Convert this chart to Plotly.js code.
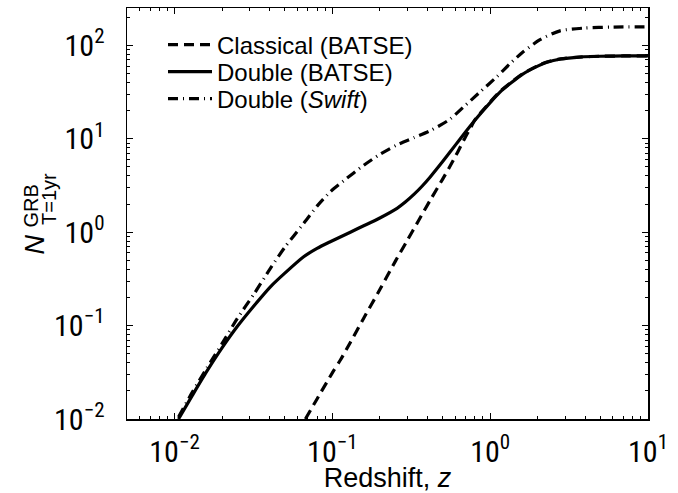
<!DOCTYPE html>
<html>
<head>
<meta charset="utf-8">
<script src="https://cdn.plot.ly/plotly-3.0.1.min.js"></script>
<style>html,body{margin:0;padding:0;background:#fff;}#chart{width:678px;height:493px;}</style>
</head>
<body>
<div id="chart"></div>
<script>
// Classical (BATSE)
const zClassical = [0.0675, 0.08, 0.1, 0.1125, 0.13, 0.158, 0.2, 0.251, 0.3, 0.35, 0.417, 0.5, 0.55, 0.6, 0.65, 0.7, 0.75, 0.8, 1.0, 1.15, 1.34, 1.6, 2.0, 2.29, 2.8, 3.7, 5, 7, 10];
const nClassical = [0.01, 0.0164, 0.0312, 0.0428, 0.066, 0.12, 0.243, 0.49, 0.83, 1.31, 2.2, 3.7, 4.9, 6.4, 8.3, 10.6, 13.0, 15.9, 24.8, 31.9, 39.5, 49.5, 60.5, 66.3, 71.7, 75.1, 76.5, 77, 77];
// Double (BATSE)
const zDouble = [0.0106, 0.013, 0.016, 0.02, 0.0249, 0.032, 0.0405, 0.05, 0.0658, 0.08, 0.097, 0.13, 0.158, 0.2, 0.257, 0.29, 0.33, 0.37, 0.417, 0.5, 0.6, 0.7, 0.8, 1.0, 1.15, 1.34, 1.6, 2.0, 2.29, 2.8, 3.7, 5, 7, 10];
const nDouble = [0.01, 0.018, 0.0323, 0.0577, 0.097, 0.164, 0.26, 0.364, 0.545, 0.67, 0.79, 1.0, 1.17, 1.42, 1.8, 2.1, 2.55, 3.1, 3.9, 5.7, 8.5, 11.9, 15.8, 24.4, 31.4, 39, 49, 60, 66, 71.5, 75, 76.5, 77, 77];
// Double (Swift)
const zSwift = [0.0106, 0.013, 0.016, 0.02, 0.0249, 0.032, 0.0405, 0.05, 0.0658, 0.08, 0.097, 0.118, 0.158, 0.2, 0.257, 0.33, 0.417, 0.55, 0.678, 0.85, 1.1, 1.34, 1.6, 2.07, 2.77, 3.9, 6, 10];
const nSwift = [0.0105, 0.0195, 0.035, 0.064, 0.118, 0.22, 0.41, 0.69, 1.24, 1.9, 2.7, 3.55, 5.2, 6.8, 8.6, 10.3, 12.2, 16, 21.9, 31, 46, 64, 84, 115, 143, 153, 157, 158];

const seriesNames = ['Classical (BATSE)', 'Double (BATSE)', 'Double (<i>Swift</i>)'];
const xTickVals = [0.01, 0.1, 1, 10];
const xTickText = ['10<sup>\u22122</sup>', '10<sup>\u22121</sup>', '10<sup>0</sup>', '10<sup>1</sup>'];
const yTickVals = [0.01, 0.1, 1, 10, 100];
const yTickText = ['10<sup>\u22122</sup>', '10<sup>\u22121</sup>', '10<sup>0</sup>', '10<sup>1</sup>', '10<sup>2</sup>'];

const FONT = '"Liberation Sans", Arial, sans-serif';
const TICKFONT = '"Roboto Condensed", "Liberation Sans", Arial, sans-serif';

const traces = [
  {x: zClassical, y: nClassical, name: seriesNames[0], mode: 'lines', legend: 'legend',
   line: {color: '#000', width: 3.2, dash: '10px,6px', shape: 'spline', smoothing: 0.7}},
  {x: zDouble, y: nDouble, name: seriesNames[1], mode: 'lines', legend: 'legend2',
   line: {color: '#000', width: 3.2, dash: 'solid', shape: 'spline', smoothing: 0.7}},
  {x: zSwift, y: nSwift, name: seriesNames[2], mode: 'lines', legend: 'legend3',
   line: {color: '#000', width: 3.2, dash: '10px,5px,1px,5px', shape: 'spline', smoothing: 0.7}}
];

const axisCommon = {
  type: 'log', showline: true, linecolor: '#000', linewidth: 1.5, mirror: 'ticks',
  ticks: 'inside', ticklen: 6, tickwidth: 1, tickcolor: '#000',
  showgrid: false, zeroline: false, tickmode: 'array',
  tickfont: {family: TICKFONT, size: 30, color: '#000'},
  minor: {ticks: 'inside', ticklen: 3, tickwidth: 1, tickcolor: '#000', dtick: 'D1', showgrid: false}
};

function legendAt(rowY) {
  return {x: (163 - 127) / 521, y: (419 - rowY) / 411, xanchor: 'left', yanchor: 'middle',
          bgcolor: 'rgba(0,0,0,0)', font: {family: FONT, size: 24, color: '#000'}, itemwidth: 44};
}

const layout = {
  width: 678, height: 493,
  margin: {l: 127, r: 30, t: 8, b: 74},
  paper_bgcolor: '#fff', plot_bgcolor: '#fff',
  font: {family: FONT, color: '#000'},
  showlegend: true,
  legend: legendAt(45),
  legend2: legendAt(72),
  legend3: legendAt(99),
  xaxis: Object.assign({}, axisCommon, {
    range: [Math.log10(0.005), 1], tickvals: xTickVals, ticktext: xTickText,
    ticklabelstandoff: 5,
    title: {text: 'Redshift, <i>z</i>', font: {family: FONT, size: 27, color: '#000'}, standoff: 0}
  }),
  yaxis: Object.assign({}, axisCommon, {
    range: [-2, 2.4], tickvals: yTickVals, ticktext: yTickText,
    ticklabelstandoff: 15
  }),
  annotations: [
    {text: '<i>N</i>', xref: 'paper', yref: 'paper', x: (34.5 - 127) / 521, y: (419 - 245) / 411,
     xanchor: 'center', yanchor: 'middle', textangle: -90, showarrow: false,
     font: {family: FONT, size: 27, color: '#000'}},
    {text: 'GRB', xref: 'paper', yref: 'paper', x: (30 - 127) / 521, y: (419 - 206.5) / 411,
     xanchor: 'center', yanchor: 'middle', textangle: -90, showarrow: false,
     font: {family: FONT, size: 20, color: '#000'}},
    {text: 'T=1yr', xref: 'paper', yref: 'paper', x: (49 - 127) / 521, y: (419 - 199) / 411,
     xanchor: 'center', yanchor: 'middle', textangle: -90, showarrow: false,
     font: {family: FONT, size: 20, color: '#000'}}
  ]
};

Plotly.newPlot('chart', traces, layout, {displayModeBar: false, staticPlot: true});
</script>
</body>
</html>
